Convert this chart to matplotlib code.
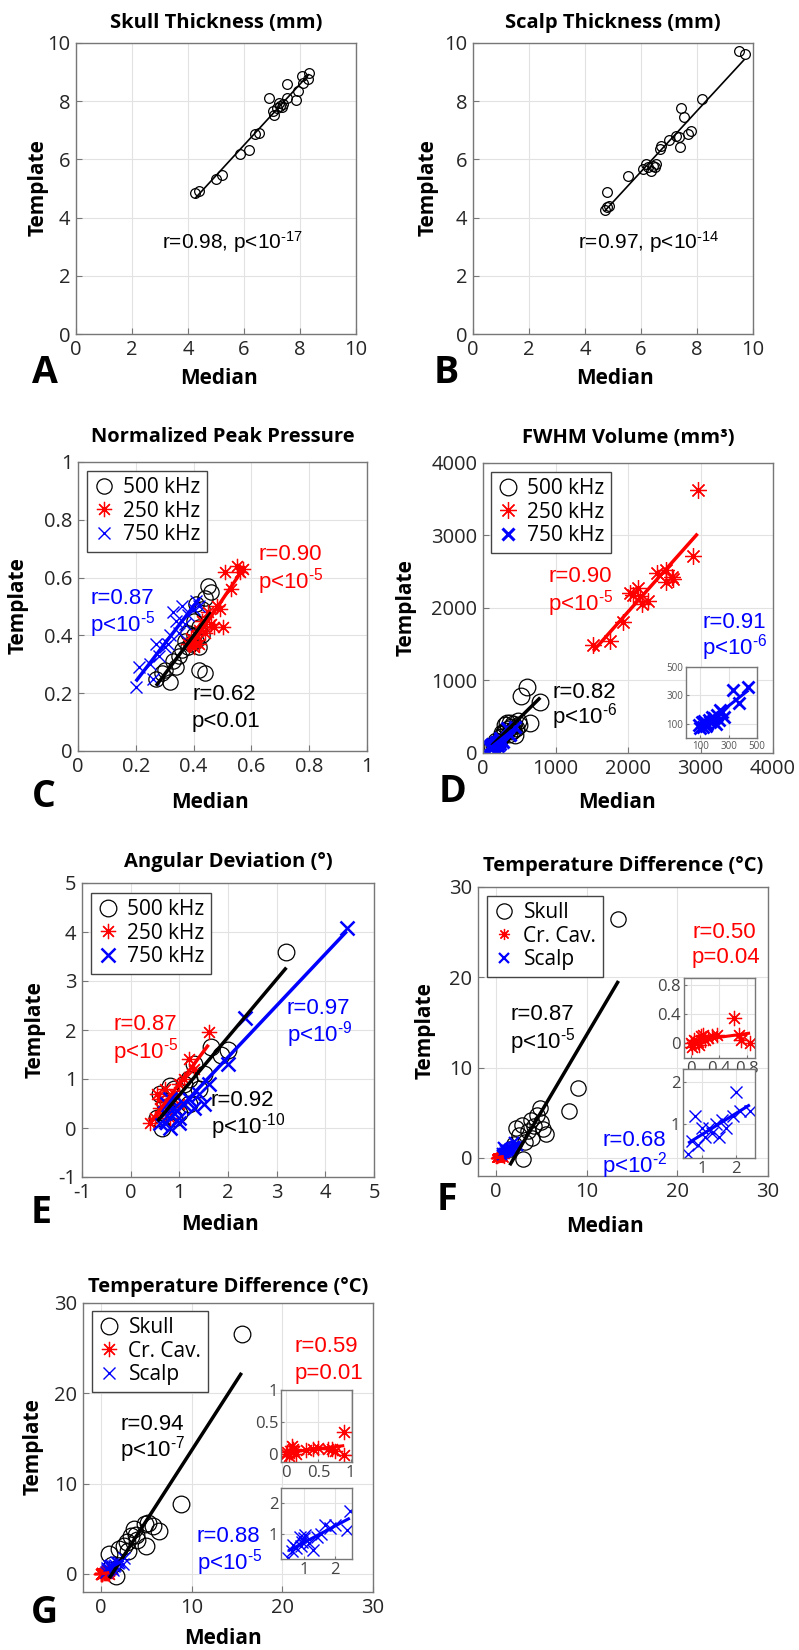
import numpy as np
import matplotlib
matplotlib.use("Agg")
import matplotlib.pyplot as plt

plt.rcParams['font.family'] = ['Open Sans', 'DejaVu Sans']
plt.rcParams['axes.unicode_minus'] = False
plt.rcParams['mathtext.fontset'] = 'custom'
plt.rcParams['mathtext.rm'] = 'Liberation Sans'
plt.rcParams['mathtext.it'] = 'Liberation Sans:italic'
plt.rcParams['mathtext.default'] = 'regular'

# ---- data ----
# A skull thickness (mm)
skull_med = [4.25, 4.39, 5.0, 5.2, 5.86, 6.18, 6.4, 6.55, 6.89, 7.07, 7.05, 7.17, 7.29, 7.35,
             7.26, 7.55, 7.52, 7.86, 7.92, 8.06, 8.12, 8.3, 8.33, 7.4]
skull_tpl = [4.83, 4.93, 5.33, 5.48, 6.17, 6.34, 6.88, 6.92, 8.12, 7.51, 7.68, 7.77, 7.85, 7.80,
             7.93, 8.58, 8.11, 8.05, 8.35, 8.86, 8.62, 8.77, 8.98, 7.9]
# B scalp thickness (mm)
scalp_med = [4.70, 4.79, 4.85, 4.80, 5.54, 6.07, 6.17, 6.25, 6.37, 6.43, 6.52, 6.49, 6.67, 6.73,
             7.0, 7.26, 7.36, 7.40, 7.44, 7.54, 7.68, 7.8, 8.19, 9.5, 9.70]
scalp_tpl = [4.26, 4.37, 4.41, 4.87, 5.44, 5.67, 5.84, 5.75, 5.61, 5.79, 5.84, 5.73, 6.36, 6.45,
             6.65, 6.82, 6.76, 6.42, 7.77, 7.47, 6.88, 6.99, 8.08, 9.71, 9.63]

# C normalized peak pressure
pp500_x = [0.27, 0.29, 0.30, 0.32, 0.33, 0.34, 0.35, 0.36, 0.37, 0.38, 0.38, 0.39, 0.40, 0.40,
           0.41, 0.41, 0.42, 0.42, 0.43, 0.43, 0.44, 0.45, 0.46, 0.42, 0.44]
pp500_y = [0.25, 0.27, 0.28, 0.24, 0.31, 0.29, 0.33, 0.35, 0.38, 0.36, 0.41, 0.37, 0.40, 0.45,
           0.38, 0.51, 0.43, 0.36, 0.49, 0.40, 0.53, 0.57, 0.55, 0.28, 0.27]
pp250_x = [0.38, 0.39, 0.40, 0.40, 0.41, 0.42, 0.42, 0.43, 0.44, 0.45, 0.46, 0.47, 0.48, 0.49,
           0.50, 0.51, 0.53, 0.55, 0.56, 0.57]
pp250_y = [0.37, 0.39, 0.36, 0.38, 0.40, 0.42, 0.37, 0.45, 0.41, 0.48, 0.44, 0.43, 0.50, 0.49,
           0.43, 0.62, 0.56, 0.64, 0.62, 0.63]
pp750_x = [0.20, 0.21, 0.25, 0.26, 0.27, 0.28, 0.30, 0.31, 0.32, 0.33, 0.34, 0.35, 0.36, 0.37,
           0.38, 0.40, 0.41, 0.42]
pp750_y = [0.22, 0.29, 0.30, 0.25, 0.37, 0.33, 0.36, 0.37, 0.40, 0.48, 0.45, 0.41, 0.50, 0.44,
           0.47, 0.49, 0.52, 0.50]

# D FWHM volume (mm3)
fv500_x = [600, 530, 790, 650, 480, 420, 380, 350, 300, 280, 250, 400, 450, 330, 200, 150, 360,
           500, 420, 310, 260, 180, 120, 440, 370]
fv500_y = [910, 780, 710, 410, 440, 400, 360, 330, 300, 260, 220, 300, 350, 420, 150, 100, 260,
           380, 320, 380, 280, 160, 90, 250, 420]
fv250_x = [1520, 1750, 1930, 2070, 2140, 2170, 2280, 2190, 2030, 2400, 2530, 2600, 2530, 2620,
           2900, 2960]
fv250_y = [1490, 1540, 1810, 2180, 2270, 2160, 2090, 2050, 2200, 2480, 2520, 2430, 2360, 2400,
           2720, 3630]
fv750_x = [90, 100, 110, 120, 130, 140, 150, 160, 170, 180, 190, 200, 210, 220, 230, 240, 250,
           270, 330, 370, 440, 140]
fv750_y = [90, 70, 110, 80, 120, 95, 100, 130, 110, 150, 120, 140, 100, 160, 130, 200, 180,
           150, 340, 250, 360, 85]

# E angular deviation (deg)
ad500_x = [0.55, 0.6, 0.65, 0.7, 0.7, 0.8, 0.85, 0.9, 0.9, 1.0, 1.0, 1.1, 1.2, 1.2, 1.3, 1.4,
           1.5, 1.65, 1.85, 2.0, 3.2]
ad500_y = [0.2, 0.7, 0.0, 0.3, 0.5, 0.85, 0.5, 0.2, 0.8, 0.6, 0.3, 0.9, 0.5, 1.0, 1.3, 0.8,
           1.1, 1.65, 1.5, 1.6, 3.6]
ad250_x = [0.4, 0.5, 0.55, 0.6, 0.6, 0.7, 0.7, 0.8, 0.8, 0.9, 1.0, 1.0, 1.1, 1.2, 1.3, 1.6]
ad250_y = [0.1, 0.2, 0.7, 0.6, 0.4, 0.3, 0.8, 0.5, 0.2, 0.7, 0.9, 0.5, 1.0, 1.4, 1.2, 1.95]
ad750_x = [0.6, 0.7, 0.75, 0.8, 0.9, 1.0, 1.0, 1.1, 1.2, 1.3, 1.4, 1.5, 1.6, 2.0, 2.35, 4.44, 0.8]
ad750_y = [0.1, 0.3, 0.5, 0.0, 0.4, 0.2, 0.1, 0.5, 0.6, 0.4, 0.7, 0.5, 0.9, 1.3, 2.24, 4.09, 0.6]

# F temperature difference (degC)
tf_sk_x = [13.5, 9.0, 8.0, 5.5, 5.0, 4.8, 4.5, 4.2, 4.0, 3.8, 3.5, 3.2, 3.0, 2.8, 2.5, 2.2,
           2.0, 1.5, 5.2]
tf_sk_y = [26.5, 7.7, 5.2, 2.7, 4.0, 5.5, 4.8, 3.5, 2.2, 4.2, 3.0, 1.8, -0.1, 3.6, 2.5, 3.3,
           1.5, 1.0, 3.2]
tf_cc_x = [0.0, 0.02, 0.05, 0.1, 0.12, 0.15, 0.18, 0.2, 0.25, 0.3, 0.37, 0.62, 0.69, 0.72, 0.85]
tf_cc_y = [0.0, -0.05, 0.05, 0.02, -0.02, 0.1, 0.12, 0.05, 0.08, 0.1, 0.11, 0.35, 0.12, 0.05, 0.0]
tf_sc_x = [0.6, 0.7, 0.8, 0.9, 1.0, 1.1, 1.2, 1.3, 1.4, 1.5, 1.6, 1.7, 1.9, 2.0, 2.1, 2.4]
tf_sc_y = [0.3, 0.6, 1.2, 0.5, 0.9, 0.7, 0.9, 0.8, 1.0, 0.7, 1.1, 0.9, 1.2, 1.75, 1.3, 1.3]

# G temperature difference (degC)
tg_sk_x = [15.5, 8.8, 6.4, 5.7, 4.9, 4.8, 3.6, 3.3, 3.0, 2.5, 2.0, 1.6, 0.9, 4.0, 3.8, 2.8, 1.2, 5.2]
tg_sk_y = [26.6, 7.7, 4.8, 5.3, 3.1, 5.5, 5.0, 4.2, 2.5, 3.1, 2.8, -0.2, 2.2, 3.8, 4.3, 3.5, 1.0, 5.6]
tg_cc_x = [0.0, 0.02, 0.05, 0.09, 0.12, 0.15, 0.3, 0.42, 0.5, 0.65, 0.71, 0.75, 0.89, 0.9, 0.1]
tg_cc_y = [0.0, 0.03, -0.02, 0.125, 0.05, 0.0, 0.07, 0.09, 0.1, 0.08, 0.09, 0.05, -0.01, 0.35, 0.08]
tg_sc_x = [0.49, 0.6, 0.65, 0.75, 0.86, 0.95, 1.0, 1.05, 1.15, 1.3, 1.42, 1.55, 1.68, 1.85, 2.0,
           2.40, 2.48, 0.9]
tg_sc_y = [0.21, 0.45, 0.64, 0.55, 0.91, 0.75, 0.85, 0.95, 0.7, 0.48, 0.91, 1.0, 1.29, 1.18, 1.3,
           1.13, 1.76, 0.6]

W, H = 799, 1650
fig = plt.figure(figsize=(W / 100, H / 100), dpi=100)

AST = (8, 2, 0)
GRAY = '#777777'
NOTE_FONT = ['Liberation Sans', 'DejaVu Sans']
fmt = plt.FuncFormatter(lambda v, p: f'{v:g}')


def make_ax(l, t, r, b, xlim, ylim, xt, yt, fs=14.5, tl=4):
    ax = fig.add_axes([l / W, 1 - b / H, (r - l) / W, (b - t) / H])
    ax.set_xlim(xlim)
    ax.set_ylim(ylim)
    ax.set_xticks(xt)
    ax.set_yticks(yt)
    ax.xaxis.set_major_formatter(fmt)
    ax.yaxis.set_major_formatter(fmt)
    ax.grid(True, color='#e2e2e2', lw=0.8)
    ax.set_axisbelow(True)
    ax.tick_params(direction='in', length=tl, width=0.8, color=GRAY,
                   labelcolor='#262626', labelsize=fs, pad=4)
    for s in ax.spines.values():
        s.set_color(GRAY)
        s.set_linewidth(1)
    return ax


def deco(ax, rect, title, ty, mx, my, tx, tyc, letter, lx, ly):
    l, t, r, b = rect
    ax.set_title(title, fontweight='bold', fontsize=14.5, y=(b - ty) / (b - t), pad=0,
                 va='center')
    ax.set_xlabel('Median', fontweight='bold', fontsize=15, va='center')
    ax.xaxis.set_label_coords(mx / W, 1 - my / H, transform=fig.transFigure)
    ax.set_ylabel('Template', fontweight='bold', fontsize=15, va='center')
    ax.yaxis.set_label_coords(tx / W, 1 - tyc / H, transform=fig.transFigure)
    fig.text(lx / W, 1 - ly / H, letter, fontsize=27, fontweight='bold', ha='center',
             va='center')


def note(x, y, s, c='black', fs=16, ha='left'):
    fig.text(x / W, 1 - y / H, s, color=c, fontsize=fs, ha=ha, va='center', family=NOTE_FONT)


def pexp(e, base='p<10'):
    # short hyphen in the exponent, as in the original
    return base + r'$^{\text{-' + str(e) + '}}$'


def fit(ax, x, y, c, lw):
    p = np.polyfit(x, y, 1)
    xx = np.array([min(x), max(x)])
    ax.plot(xx, np.polyval(p, xx), color=c, lw=lw, solid_capstyle='butt')


def legend(ax, l, t):
    ax.legend(loc='upper left', bbox_to_anchor=(l / W, 1 - t / H), bbox_transform=fig.transFigure,
              borderaxespad=0, fontsize=15, fancybox=False, framealpha=1, edgecolor='#444444',
              numpoints=1, handlelength=1.0, handletextpad=0.45, labelspacing=0.12,
              borderpad=0.3)


def circ(ax, x, y, ms, lab=None, mew=0.9):
    ax.plot(x, y, 'o', mfc='none', mec='black', ms=ms, mew=mew, label=lab, ls='none')


def star(ax, x, y, ms, lab=None, mew=0.9):
    ax.plot(x, y, marker=AST, color='red', ms=ms, mew=mew, label=lab, ls='none')


def cross(ax, x, y, ms, lab=None, mew=1.0):
    ax.plot(x, y, 'x', color='blue', ms=ms, mew=mew, label=lab, ls='none')


# ---- A ----
rA = (76, 43, 356, 334)
ax = make_ax(*rA, (0, 10), (0, 10), range(0, 11, 2), range(0, 11, 2))
circ(ax, skull_med, skull_tpl, 7)
fit(ax, skull_med, skull_tpl, 'black', 1.2)
deco(ax, rA, 'Skull Thickness (mm)', 23, 219, 378, 38, 188, 'A', 45, 373)
note(232, 242, pexp(17, 'r=0.98, p<10'), fs=15, ha='center')

# ---- B ----
rB = (473, 43, 753, 334)
ax = make_ax(*rB, (0, 10), (0, 10), range(0, 11, 2), range(0, 11, 2))
circ(ax, scalp_med, scalp_tpl, 7)
fit(ax, scalp_med, scalp_tpl, 'black', 1.2)
deco(ax, rB, 'Scalp Thickness (mm)', 23, 615, 378, 428, 188, 'B', 446, 373)
note(649, 242, pexp(14, 'r=0.97, p<10'), fs=15, ha='center')

# ---- C ----
rC = (78, 462, 367, 751)
ax = make_ax(*rC, (0, 1), (0, 1), np.arange(0, 1.01, 0.2), np.arange(0, 1.01, 0.2))
circ(ax, pp500_x, pp500_y, 11, '500 kHz')
star(ax, pp250_x, pp250_y, 11, '250 kHz')
cross(ax, pp750_x, pp750_y, 8, '750 kHz')
fit(ax, pp500_x, pp500_y, 'black', 2.5)
fit(ax, pp250_x, pp250_y, 'red', 2.5)
fit(ax, pp750_x, pp750_y, 'blue', 2.5)
legend(ax, 87, 471)
deco(ax, rC, 'Normalized Peak Pressure', 437, 210, 803, 18, 606, 'C', 44, 797)
note(258, 554, 'r=0.90', 'red')
note(258, 582, pexp(5), 'red')
note(90, 598, 'r=0.87', 'blue')
note(90, 625, pexp(5), 'blue')
note(192, 695, 'r=0.62')
note(192, 722, 'p<0.01')

# ---- D ----
rD = (483, 463, 773, 753)
ax = make_ax(*rD, (0, 4000), (0, 4000), range(0, 4001, 1000), range(0, 4001, 1000))
circ(ax, fv500_x, fv500_y, 12, '500 kHz')
star(ax, fv250_x, fv250_y, 12, '250 kHz')
cross(ax, fv750_x, fv750_y, 9, '750 kHz', mew=2.2)
fit(ax, fv500_x, fv500_y, 'black', 2.5)
fit(ax, fv250_x, fv250_y, 'red', 2.5)
fit(ax, fv750_x, fv750_y, 'blue', 2.5)
legend(ax, 491, 472)
deco(ax, rD, 'FWHM Volume (mm³)', 438, 617, 802, 406, 608, 'D', 452, 792)
note(548, 577, 'r=0.90', 'red')
note(548, 604, pexp(5), 'red')
note(702, 622, 'r=0.91', 'blue')
note(702, 648, pexp(6), 'blue')
note(552, 692, 'r=0.82')
note(552, 717, pexp(6))
ins = make_ax(686, 667, 757, 738, (0, 500), (0, 500), [100, 300, 500], [100, 300, 500],
              fs=7, tl=2)
ins.tick_params(labelcolor='#555555', pad=2)
cross(ins, fv750_x, fv750_y, 8, mew=2.0)
fit(ins, fv750_x, fv750_y, 'blue', 2.2)

# ---- E ----
rE = (82, 883, 374, 1177)
ax = make_ax(*rE, (-1, 5), (-1, 5), range(-1, 6), range(-1, 6))
circ(ax, ad500_x, ad500_y, 12, '500 kHz')
star(ax, ad250_x, ad250_y, 11, '250 kHz')
cross(ax, ad750_x, ad750_y, 10, '750 kHz', mew=1.8)
fit(ax, ad500_x, ad500_y, 'black', 2.5)
fit(ax, ad250_x, ad250_y, 'red', 2.5)
fit(ax, ad750_x, ad750_y, 'blue', 2.5)
legend(ax, 91, 893)
deco(ax, rE, 'Angular Deviation (°)', 862, 220, 1225, 35, 1030, 'E', 41, 1213)
note(113, 1025, 'r=0.87', 'red')
note(113, 1052, pexp(5), 'red')
note(287, 1008, 'r=0.97', 'blue')
note(287, 1035, pexp(9), 'blue')
note(211, 1100, 'r=0.92')
note(211, 1127, pexp(10))

# ---- F ----
rF = (478, 887, 768, 1176)
ax = make_ax(*rF, (-2, 30), (-2, 30), range(0, 31, 10), range(0, 31, 10))
circ(ax, tf_sk_x, tf_sk_y, 11, 'Skull')
star(ax, tf_cc_x, tf_cc_y, 8, 'Cr. Cav.')
cross(ax, tf_sc_x, tf_sc_y, 7, 'Scalp', mew=1.6)
fit(ax, tf_sk_x, tf_sk_y, 'black', 2.5)
fit(ax, tf_cc_x, tf_cc_y, 'red', 2.5)
fit(ax, tf_sc_x, tf_sc_y, 'blue', 2.5)
legend(ax, 487, 896)
deco(ax, rF, 'Temperature Difference (°C)', 866, 605, 1226, 425, 1031, 'F', 447, 1200)
note(692, 932, 'r=0.50', 'red')
note(692, 958, 'p=0.04', 'red')
note(510, 1015, 'r=0.87')
note(510, 1042, pexp(5))
note(602, 1140, 'r=0.68', 'blue')
note(602, 1166, pexp(2), 'blue')
ins = make_ax(684, 978, 755, 1058, (-0.1, 0.92), (-0.2, 0.9), [0, 0.4, 0.8], [0, 0.4, 0.8],
              fs=12, tl=2)
ins.tick_params(labelcolor='#444444', pad=2)
star(ins, tf_cc_x, tf_cc_y, 11)
fit(ins, tf_cc_x, tf_cc_y, 'red', 2.2)
ins = make_ax(683, 1069, 755, 1158, (0.45, 2.55), (0.2, 2.3), [1, 2], [1, 2], fs=12, tl=2)
ins.tick_params(labelcolor='#444444', pad=2)
cross(ins, tf_sc_x, tf_sc_y, 9)
fit(ins, tf_sc_x, tf_sc_y, 'blue', 2.2)

# ---- G ----
rG = (83, 1303, 373, 1592)
ax = make_ax(*rG, (-2, 30), (-2, 30), range(0, 31, 10), range(0, 31, 10))
circ(ax, tg_sk_x, tg_sk_y, 12, 'Skull')
star(ax, tg_cc_x, tg_cc_y, 11, 'Cr. Cav.')
cross(ax, tg_sc_x, tg_sc_y, 9, 'Scalp')
fit(ax, tg_sk_x, tg_sk_y, 'black', 2.5)
fit(ax, tg_cc_x, tg_cc_y, 'red', 2.5)
fit(ax, tg_sc_x, tg_sc_y, 'blue', 2.5)
legend(ax, 92, 1311)
deco(ax, rG, 'Temperature Difference (°C)', 1287, 223, 1638, 33, 1447, 'G', 44, 1613)
note(120, 1425, 'r=0.94')
note(120, 1450, pexp(7))
note(295, 1347, 'r=0.59', 'red')
note(295, 1374, 'p=0.01', 'red')
note(197, 1537, 'r=0.88', 'blue')
note(197, 1563, pexp(5), 'blue')
ins = make_ax(281, 1390, 352, 1462, (-0.08, 1.02), (-0.12, 1.0), [0, 0.5, 1], [0, 0.5, 1],
              fs=12, tl=2)
ins.tick_params(labelcolor='#444444', pad=2)
star(ins, tg_cc_x, tg_cc_y, 11)
fit(ins, tg_cc_x, tg_cc_y, 'red', 2.2)
ins = make_ax(281, 1488, 352, 1559, (0.26, 2.55), (0.18, 2.5), [1, 2], [1, 2], fs=12, tl=2)
ins.tick_params(labelcolor='#444444', pad=2)
cross(ins, tg_sc_x, tg_sc_y, 9)
fit(ins, tg_sc_x, tg_sc_y, 'blue', 2.2)

fig.savefig('out.png', dpi=100)
